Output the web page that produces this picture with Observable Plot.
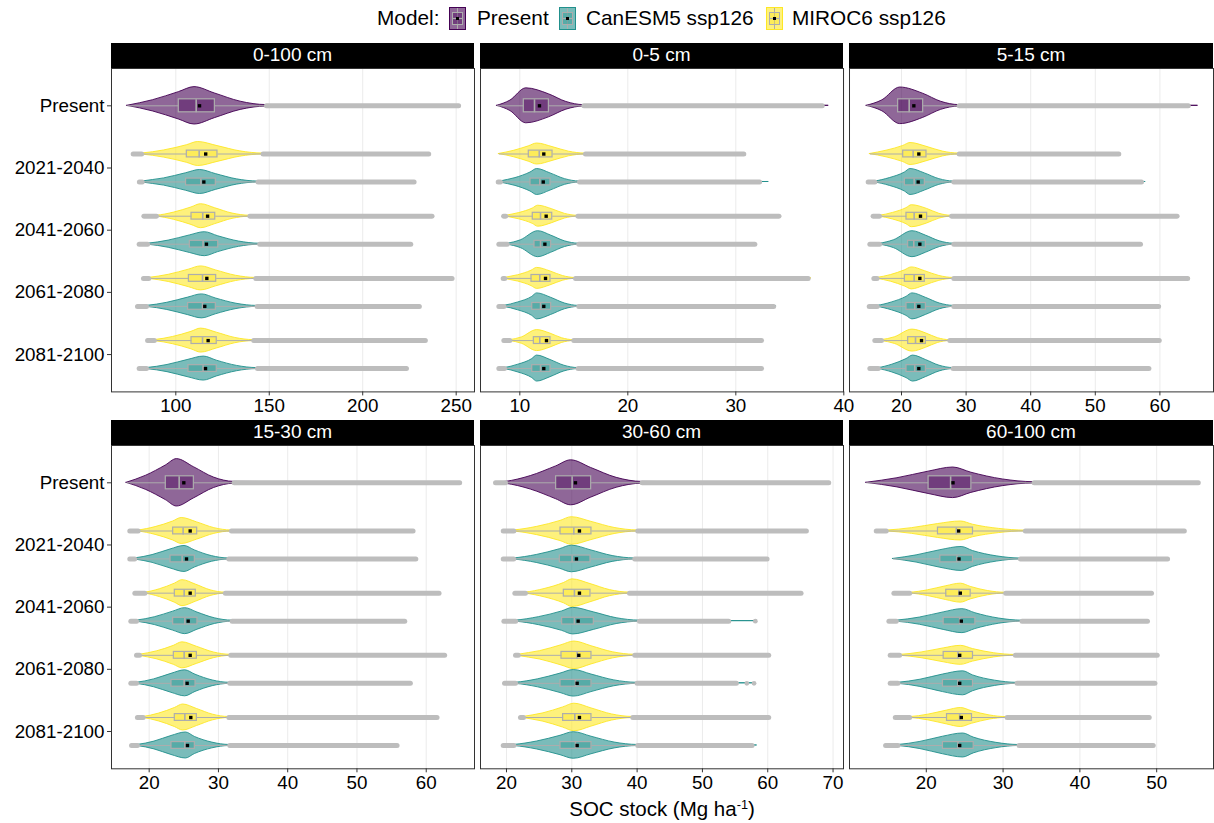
<!DOCTYPE html>
<html>
<head>
<meta charset="utf-8">
<script src="https://cdn.jsdelivr.net/npm/d3@7"></script>
<script src="https://cdn.jsdelivr.net/npm/@observablehq/plot@0.6"></script>
<style>
  body { margin: 0; background: #fff; font-family: "Liberation Sans", Arial, Helvetica, sans-serif; }
  #root { position: relative; width: 1214px; height: 823px; overflow: hidden; background: #fff; }
  .strip { position: absolute; background: #000; color: #fff; font-size: 19px; display: flex; align-items: center; justify-content: center; }
  .pnl { position: absolute; }
  .lg { position: absolute; font-size: 20.8px; line-height: 24px; top: 6px; color: #000; white-space: nowrap; }
  .key { position: absolute; top: 7px; }
  #xtitle { position: absolute; left: 0; width: 1324px; top: 793px; text-align: center; font-size: 20.5px; line-height: 24px; }
</style>
</head>
<body>
<div id="root"></div>
<script>
// ---------------- DATA ----------------
const periods = ["Present", "2021-2040", "2041-2060", "2061-2080", "2081-2100"];
const models = ["Present", "CanESM5 ssp126", "MIROC6 ssp126"];
const modelColors = ["#440154", "#21908C", "#FDE725"];
const depths = ["0-100 cm", "0-5 cm", "5-15 cm", "15-30 cm", "30-60 cm", "60-100 cm"];
const xDomains = [[65.6, 259.8], [6.36, 39.97], [11.95, 68.3], [14.56, 66.97], [16.02, 71.6], [10.0, 57.4]];
const xTicks = [[100, 150, 200, 250], [10, 20, 30, 40], [20, 30, 40, 50, 60], [20, 30, 40, 50, 60], [20, 30, 40, 50, 60, 70], [20, 30, 40, 50]];

// columns: period, model, min, lowerWhisker, q1, median, q3, upperWhisker, max, mean, mode, violinMax(optional)
const stats_0_100 = [
  ["Present",   "Present",        74.0, 74.0, 101.6, 110.9, 120.9, 148.5, 251.3, 112.7, 110.0],
  ["2021-2040", "MIROC6 ssp126",  77.2, 81.7, 105.9, 112.5, 122.3, 146.7, 235.3, 116.0, 112.0],
  ["2021-2040", "CanESM5 ssp126", 80.5, 82.0, 105.5, 113.4, 121.4, 144.0, 227.5, 115.0, 113.0],
  ["2041-2060", "MIROC6 ssp126",  82.9, 89.7, 108.4, 114.4, 121.1, 139.6, 237.1, 117.0, 113.5],
  ["2041-2060", "CanESM5 ssp126", 80.4, 84.9, 107.5, 114.6, 122.7, 144.9, 225.7, 116.4, 115.5],
  ["2061-2080", "MIROC6 ssp126",  82.7, 85.5, 107.0, 114.3, 121.6, 142.8, 247.8, 116.6, 113.5],
  ["2061-2080", "CanESM5 ssp126", 79.5, 84.3, 106.6, 114.3, 121.4, 143.5, 230.3, 115.5, 114.0],
  ["2081-2100", "MIROC6 ssp126",  84.9, 88.5, 108.4, 114.3, 121.9, 141.7, 233.5, 117.3, 113.5],
  ["2081-2100", "CanESM5 ssp126", 80.4, 84.3, 106.8, 114.6, 121.9, 143.7, 223.4, 115.9, 115.0]
];
const stats_0_5 = [
  ["Present",   "Present",        7.90, 7.90, 10.37, 11.36, 12.69, 15.93, 38.00, 11.82, 10.6, 38.6],
  ["2021-2040", "MIROC6 ssp126",  8.06, 8.06, 10.83, 11.80, 13.03, 16.08, 30.74, 12.22, 11.6],
  ["2021-2040", "CanESM5 ssp126", 8.00, 8.20, 10.99, 11.85, 12.84, 15.53, 32.20, 12.17, 11.6, 33.05],
  ["2041-2060", "MIROC6 ssp126",  8.50, 8.70, 11.20, 11.92, 13.00, 15.37, 34.00, 12.44, 11.7, 34.14],
  ["2041-2060", "CanESM5 ssp126", 8.06, 8.83, 11.36, 11.92, 12.90, 15.46, 31.76, 12.32, 11.7],
  ["2061-2080", "MIROC6 ssp126",  8.46, 8.60, 11.08, 11.85, 12.84, 15.16, 36.70, 12.38, 11.6, 37.0],
  ["2061-2080", "CanESM5 ssp126", 8.06, 8.52, 11.15, 11.92, 12.90, 15.46, 33.50, 12.22, 11.6, 33.77],
  ["2081-2100", "MIROC6 ssp126",  8.52, 9.07, 11.30, 11.85, 12.84, 15.00, 32.38, 12.47, 11.6],
  ["2081-2100", "CanESM5 ssp126", 8.06, 8.58, 11.15, 11.92, 12.84, 15.40, 32.38, 12.22, 11.6]
];
const stats_5_15 = [
  ["Present",   "Present",        14.60, 14.60, 19.48, 21.19, 23.35, 28.93, 64.40, 21.91, 19.8, 65.9],
  ["2021-2040", "MIROC6 ssp126",  15.10, 15.10, 20.26, 21.80, 23.87, 28.93, 53.64, 22.68, 21.4],
  ["2021-2040", "CanESM5 ssp126", 14.84, 15.87, 20.52, 21.96, 23.61, 28.10, 57.15, 22.58, 21.4, 57.8],
  ["2041-2060", "MIROC6 ssp126",  15.60, 16.60, 20.77, 21.96, 23.97, 27.74, 62.67, 22.94, 21.6],
  ["2041-2060", "CanESM5 ssp126", 15.10, 16.60, 21.03, 21.90, 23.77, 28.10, 57.00, 22.84, 21.7],
  ["2061-2080", "MIROC6 ssp126",  15.72, 16.20, 20.52, 21.96, 23.61, 28.10, 64.30, 22.84, 21.6, 64.74],
  ["2061-2080", "CanESM5 ssp126", 15.00, 16.23, 20.77, 22.06, 23.77, 28.10, 59.80, 22.68, 21.7, 60.15],
  ["2081-2100", "MIROC6 ssp126",  15.87, 16.90, 21.03, 22.17, 23.77, 27.48, 59.90, 23.10, 21.7],
  ["2081-2100", "CanESM5 ssp126", 15.10, 16.40, 20.77, 22.06, 23.77, 28.00, 58.30, 22.68, 21.8, 58.6]
];
const stats_15_30 = [
  ["Present",   "Present",        16.73, 16.73, 22.40, 24.33, 26.45, 32.27, 64.83, 25.00, 24.0],
  ["2021-2040", "MIROC6 ssp126",  17.20, 18.40, 23.46, 24.90, 26.93, 31.88, 58.10, 25.92, 24.7],
  ["2021-2040", "CanESM5 ssp126", 17.20, 17.90, 23.08, 24.76, 26.59, 31.50, 58.50, 25.39, 25.1],
  ["2041-2060", "MIROC6 ssp126",  17.93, 19.37, 23.70, 25.05, 26.73, 31.00, 61.85, 25.92, 24.8],
  ["2041-2060", "CanESM5 ssp126", 17.35, 18.17, 23.46, 25.15, 26.97, 31.98, 56.90, 25.63, 25.2],
  ["2061-2080", "MIROC6 ssp126",  18.17, 18.60, 23.56, 25.05, 26.88, 31.78, 62.66, 25.92, 24.8],
  ["2061-2080", "CanESM5 ssp126", 17.35, 18.17, 23.22, 25.05, 26.69, 31.64, 57.71, 25.48, 25.2],
  ["2081-2100", "MIROC6 ssp126",  18.30, 19.13, 23.70, 25.15, 26.88, 31.50, 61.56, 26.01, 24.9],
  ["2081-2100", "CanESM5 ssp126", 17.45, 18.30, 23.22, 25.15, 26.59, 31.64, 55.79, 25.53, 25.3]
];
const stats_30_60 = [
  ["Present",   "Present",        18.32, 19.85, 27.60, 30.05, 32.96, 40.77, 69.34, 30.56, 29.9],
  ["2021-2040", "MIROC6 ssp126",  19.50, 21.12, 28.27, 30.31, 33.01, 40.10, 65.92, 31.17, 30.0],
  ["2021-2040", "CanESM5 ssp126", 19.50, 21.10, 28.16, 30.05, 32.86, 39.64, 59.90, 30.71, 30.0],
  ["2041-2060", "MIROC6 ssp126",  21.28, 22.90, 28.78, 30.40, 32.86, 38.83, 65.10, 31.17, 30.1],
  ["2041-2060", "CanESM5 ssp126", 19.60, 21.40, 28.52, 30.40, 33.37, 40.36, 54.03, 30.97, 30.2, 58.1],
  ["2061-2080", "MIROC6 ssp126",  21.38, 21.80, 28.42, 30.82, 33.01, 39.64, 60.15, 31.07, 30.4],
  ["2061-2080", "CanESM5 ssp126", 19.70, 21.38, 28.27, 30.56, 33.01, 40.00, 55.20, 30.82, 30.3, 57.96],
  ["2081-2100", "MIROC6 ssp126",  22.14, 22.60, 28.67, 30.46, 33.01, 39.34, 60.15, 31.17, 30.4],
  ["2081-2100", "CanESM5 ssp126", 19.50, 21.12, 28.27, 30.56, 33.01, 40.10, 57.60, 30.82, 30.3, 58.37]
];
const stats_60_100 = [
  ["Present",   "Present",        12.18, 12.18, 20.30, 23.17, 25.87, 34.04, 55.42, 23.48, 23.5],
  ["2021-2040", "MIROC6 ssp126",  13.48, 14.78, 21.52, 23.91, 26.08, 32.90, 53.60, 24.22, 24.5],
  ["2021-2040", "CanESM5 ssp126", 15.65, 15.65, 21.83, 24.00, 26.08, 32.26, 51.42, 24.26, 24.6],
  ["2041-2060", "MIROC6 ssp126",  15.78, 17.83, 22.60, 24.26, 25.78, 30.34, 49.33, 24.43, 24.5],
  ["2041-2060", "CanESM5 ssp126", 15.13, 16.09, 22.26, 24.35, 26.39, 32.47, 48.80, 24.56, 24.7],
  ["2061-2080", "MIROC6 ssp126",  15.30, 16.52, 22.26, 24.13, 26.08, 31.60, 50.07, 24.35, 24.5],
  ["2061-2080", "CanESM5 ssp126", 15.30, 16.30, 22.17, 24.13, 26.08, 31.82, 49.77, 24.35, 24.8],
  ["2081-2100", "MIROC6 ssp126",  15.96, 17.83, 22.70, 24.35, 25.95, 30.52, 49.03, 24.56, 24.5],
  ["2081-2100", "CanESM5 ssp126", 14.70, 16.30, 22.17, 24.13, 26.17, 32.08, 49.55, 24.35, 24.8]
];
const extraOutliers = [
  ["30-60 cm", "2041-2060", "CanESM5 ssp126", 58.1],
  ["30-60 cm", "2061-2080", "CanESM5 ssp126", 56.8],
  ["30-60 cm", "2061-2080", "CanESM5 ssp126", 57.9]
];
const allStats = [stats_0_100, stats_0_5, stats_5_15, stats_15_30, stats_30_60, stats_60_100];

// ---------------- STYLE / LAYOUT ----------------
const UNIT = 62.2;                         // px per category step
const peakPx = [[18.7, 12, 12], [17.5, 13, 10.5], [18.3, 13, 11], [23.7, 13, 13], [22.5, 13.3, 13.8], [15.3, 12, 9.5]]; // [Present, CanESM, MIROC]
const dodge = {"Present": 0, "CanESM5 ssp126": -0.225, "MIROC6 ssp126": 0.225};
const colsX = [[111, 474], [480, 843], [849, 1213]];
const rowsY = [[68.3, 391.7], [445.3, 768.6]];
const FONT = '"Liberation Sans", Arial, Helvetica, sans-serif';
const GREY_OUT = "#bdbdbd", GREY_BOX = "#adadad";

const root = document.getElementById("root");

function buildPanel(di) {
  const rows = allStats[di].map(r => ({
    period: r[0], model: r[1], min: r[2], lw: r[3], q1: r[4], med: r[5], q3: r[6],
    uw: r[7], max: r[8], mean: r[9], mode: r[10], vmax: r[11] ?? r[8]
  }));
  rows.forEach(d => {
    d.c = 5 - periods.indexOf(d.period) + dodge[d.model];
    d.w = peakPx[di][models.indexOf(d.model)] / UNIT;
    d.bh = (d.model === "Present" ? 6.5 : 3.4) / UNIT;
  });
  const vpts = [];
  rows.forEach((d, i) => {
    const iqr = d.q3 - d.q1;
    const knots = [[d.min, 0], [d.lw, 0.04], [(d.lw + d.q1) / 2, 0.3]];
    if (d.mode - d.q1 > 0.25 * iqr) knots.push([d.q1, 0.73]);
    knots.push([d.mode, 1]);
    if (d.q3 - d.mode > 0.25 * iqr) knots.push([d.q3, 0.66]);
    knots.push([(d.q3 + d.uw) / 2, 0.22], [d.uw, 0.04], [d.vmax, 0]);
    let last = -Infinity;
    for (const [x, w] of knots) {
      if (x > last + 1e-6) {
        vpts.push({id: i, model: d.model, x, y1: d.c - w * d.w, y2: d.c + w * d.w});
        last = x;
      }
    }
  });
  const extras = extraOutliers.filter(e => e[0] === depths[di]).map(e => ({
    x: e[3], c: 5 - periods.indexOf(e[1]) + dodge[e[2]]
  }));
  return {rows, vpts, extras};
}

depths.forEach((depth, di) => {
  const col = di % 3, row = Math.floor(di / 3);
  const [x0, x1] = colsX[col], [y0, y1] = rowsY[row];
  const pw = x1 - x0, ph = y1 - y0;
  const L = col === 0 ? 111 : 0;
  const {rows, vpts, extras} = buildPanel(di);
  const lower = rows.filter(d => d.lw - d.min > 0.01);

  const marks = [
    Plot.gridX(xTicks[di], {stroke: "#ebebeb", strokeOpacity: 1, strokeWidth: 1}),
    Plot.areaY(vpts, {x: "x", y1: "y1", y2: "y2", z: "id", fill: "model", fillOpacity: 0.6,
                      stroke: "model", strokeWidth: 0.9, curve: "monotone-x"}),
    Plot.link(rows, {x1: "lw", x2: "q1", y1: "c", y2: "c", stroke: GREY_BOX, strokeWidth: 1}),
    Plot.link(rows, {x1: "q3", x2: "uw", y1: "c", y2: "c", stroke: GREY_BOX, strokeWidth: 1}),
    Plot.link(rows, {x1: "uw", x2: "max", y1: "c", y2: "c", stroke: GREY_OUT, strokeWidth: 5, strokeLinecap: "round"}),
    Plot.link(lower, {x1: "min", x2: "lw", y1: "c", y2: "c", stroke: GREY_OUT, strokeWidth: 5, strokeLinecap: "round"}),
    Plot.dot(extras, {x: "x", y: "c", r: 2.4, fill: GREY_OUT}),
    Plot.rect(rows, {x1: "q1", x2: "q3", y1: d => d.c - d.bh, y2: d => d.c + d.bh,
                     fill: "model", fillOpacity: 0.4, stroke: GREY_BOX, strokeWidth: 1.2}),
    Plot.link(rows, {x1: "med", x2: "med", y1: d => d.c - d.bh, y2: d => d.c + d.bh, stroke: GREY_BOX, strokeWidth: 1.6}),
    Plot.dot(rows, {x: "mean", y: "c", symbol: "square", r: 1.9, fill: "black"}),
    Plot.frame({stroke: "#333333", strokeWidth: 1}),
    Plot.axisX(xTicks[di], {tickSize: 4, tickPadding: 3, fontSize: 18.8, label: null, stroke: "#333"})
  ];
  if (col === 0) {
    marks.push(Plot.axisY([1, 2, 3, 4, 5], {tickSize: 4, tickPadding: 3, fontSize: 18.8, label: null,
      tickFormat: i => periods[5 - i], stroke: "#333"}));
  }

  const chart = Plot.plot({
    width: L + pw,
    height: ph + 40,
    marginLeft: L, marginRight: 0, marginTop: 0, marginBottom: 40,
    x: {domain: xDomains[di]},
    y: {domain: [0.4, 5.6], axis: col === 0 ? undefined : null},
    color: {domain: models, range: modelColors},
    style: {fontFamily: FONT, fontSize: "18.8px", color: "black", background: "transparent", overflow: "visible"},
    marks
  });
  chart.classList.add("pnl");
  chart.style.left = (x0 - L) + "px";
  chart.style.top = y0 + "px";
  root.appendChild(chart);

  const strip = document.createElement("div");
  strip.className = "strip";
  strip.style.left = x0 + "px";
  strip.style.width = pw + "px";
  strip.style.top = (y0 - 25.6) + "px";
  strip.style.height = "25.6px";
  strip.textContent = depth;
  root.appendChild(strip);
});

// axis title
const xt = document.createElement("div");
xt.id = "xtitle";
xt.innerHTML = 'SOC stock (Mg ha<sup style="font-size:0.62em;vertical-align:0.55em">-1</sup>)';
root.appendChild(xt);

// legend
function addText(t, left) {
  const e = document.createElement("div");
  e.className = "lg"; e.style.left = left + "px"; e.textContent = t;
  root.appendChild(e);
}
function addKey(color, left) {
  const ns = "http://www.w3.org/2000/svg";
  const s = document.createElementNS(ns, "svg");
  s.setAttribute("width", 17); s.setAttribute("height", 23);
  s.setAttribute("class", "key"); s.style.left = left + "px";
  s.innerHTML =
    `<rect x="0.5" y="0.5" width="16" height="22" fill="${color}" fill-opacity="0.6" stroke="${color}" stroke-width="1"/>` +
    `<line x1="8.5" y1="1" x2="8.5" y2="22" stroke="${GREY_BOX}" stroke-width="1"/>` +
    `<rect x="3.5" y="5.5" width="10" height="12" fill="${color}" fill-opacity="0.4" stroke="${GREY_BOX}" stroke-width="1"/>` +
    `<line x1="3.5" y1="11.5" x2="13.5" y2="11.5" stroke="${GREY_BOX}" stroke-width="1.2"/>` +
    `<rect x="7" y="10" width="3" height="3" fill="black"/>`;
  root.appendChild(s);
}
addText("Model:", 377);
addKey(modelColors[0], 449);
addText("Present", 477);
addKey(modelColors[1], 559);
addText("CanESM5 ssp126", 586);
addKey(modelColors[2], 766);
addText("MIROC6 ssp126", 792);
</script>
</body>
</html>
